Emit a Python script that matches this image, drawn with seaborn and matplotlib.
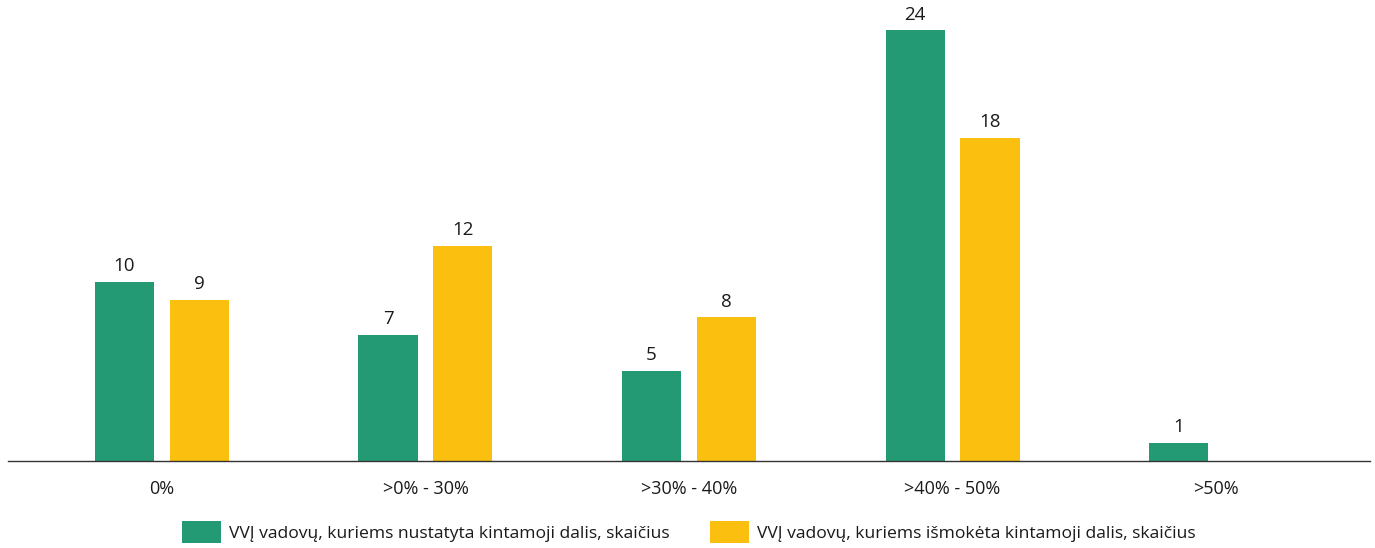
import matplotlib
matplotlib.use("Agg")
import matplotlib.pyplot as plt
import seaborn as sns
import pandas as pd

categories = ["0%", ">0% - 30%", ">30% - 40%", ">40% - 50%", ">50%"]
series_names = [
    "VVĮ vadovų, kuriems nustatyta kintamoji dalis, skaičius",
    "VVĮ vadovų, kuriems išmokėta kintamoji dalis, skaičius",
]
set_values = [10, 7, 5, 24, 1]
paid_values = [9, 12, 8, 18, 0]
colors = ["#239A74", "#FBBF0F"]

sns.set_theme(style="white")
plt.rcParams["font.family"] = ["Open Sans", "DejaVu Sans"]

df = pd.DataFrame({
    "category": categories * 2,
    "value": set_values + paid_values,
    "series": [series_names[0]] * len(categories) + [series_names[1]] * len(categories),
})

fig = plt.figure(figsize=(13.75, 5.48), dpi=100)
ax = fig.add_axes([8 / 1375, 87 / 548, 1362 / 1375, 461 / 548])

sns.barplot(data=df, x="category", y="value", hue="series", order=categories,
            hue_order=series_names, palette=colors, width=0.568, gap=0.21,
            saturation=1, linewidth=0, ax=ax, errorbar=None)

for cont in ax.containers:
    vals = cont.datavalues
    ax.bar_label(cont, labels=[str(int(v)) if v > 0 else "" for v in vals],
                 padding=5, fontsize=13.5, color="#1a1a1a")

ax.set_xlim(-0.584, 4.584)
ax.set_ylim(0, 25.7)
ax.set_xlabel("")
ax.set_ylabel("")
ax.set_yticks([])
for s in ["top", "right", "left"]:
    ax.spines[s].set_visible(False)
ax.spines["bottom"].set_color("#333333")
ax.spines["bottom"].set_linewidth(1.0)
ax.tick_params(axis="x", length=0, pad=14, labelsize=13, labelcolor="#1a1a1a")

handles, labels = ax.get_legend_handles_labels()
if ax.get_legend() is not None:
    ax.get_legend().remove()
fig.legend(handles, labels, loc="center", bbox_to_anchor=(689 / 1375, 1 - 532 / 548),
           ncol=2, frameon=False, fontsize=12.6, handlelength=2.2, handleheight=1.5,
           handletextpad=0.5, columnspacing=2.3, labelcolor="#1a1a1a")

fig.savefig("out.png", dpi=100)
